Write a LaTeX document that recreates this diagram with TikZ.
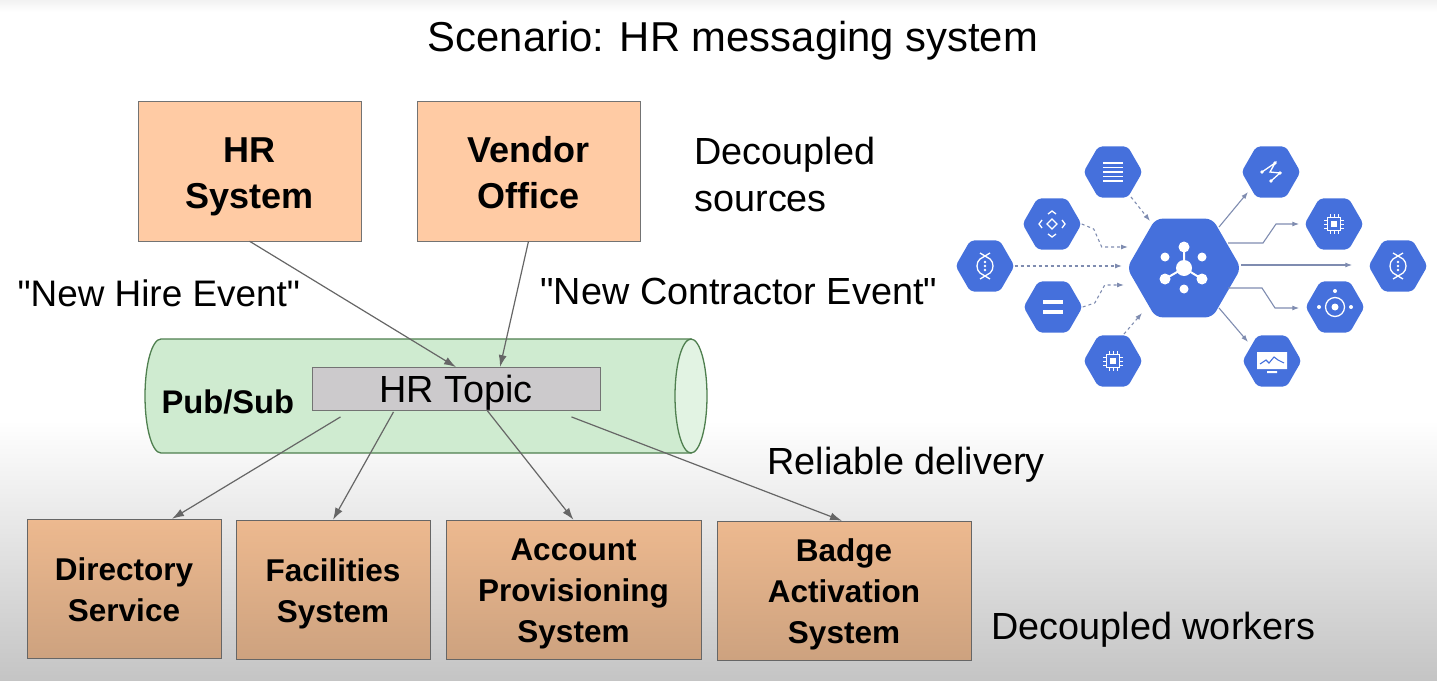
\documentclass[tikz,border=0pt]{standalone}
\usepackage{fontspec}
\setmainfont{Liberation Sans}[Ligatures=TeXOff]
\usetikzlibrary{positioning,calc,arrows.meta,shapes.geometric}
\definecolor{srcorange}{HTML}{FFCBA4}
\definecolor{wrktop}{HTML}{EDB98F}
\definecolor{wrkbot}{HTML}{CDA27F}
\definecolor{tubegreen}{HTML}{CFEBD0}
\definecolor{tubeedge}{HTML}{4F7F4F}
\definecolor{topicgray}{HTML}{CCCACC}
\definecolor{hexblue}{HTML}{4570DC}
\definecolor{flowblue}{HTML}{7F8CB0}
\newcommand{\srcpad}{\rule{0pt}{36pt}}
\newcommand{\wrkpad}{\rule{0pt}{32pt}}
\newcommand{\lastpad}{\rule[-8pt]{0pt}{1pt}}
\tikzset{
    every node/.style={font=\fontsize{37.8}{44}\selectfont},
    srcbox/.style={draw=black!55, fill=srcorange, minimum width=223pt, minimum height=140pt, align=center, font=\fontsize{36}{46}\selectfont\bfseries},
    wrkbox/.style={draw=black!60, top color=wrktop, bottom color=wrkbot, minimum height=139pt, align=center, font=\fontsize{31.5}{41}\selectfont\bfseries},
    hexsmall/.style={regular polygon, regular polygon sides=6, fill=hexblue, minimum size=59pt, inner sep=0pt, rounded corners=4pt},
    hexhub/.style={hexsmall, minimum size=114pt, rounded corners=7pt},
    arrow/.style={-{Latex[length=12pt,width=8pt]}, draw=black!60, line width=1.2pt},
    flowout/.style={-{Latex[length=7pt,width=5pt]}, draw=flowblue, line width=1.1pt},
    flowin/.style={flowout, dashed},
    icon/.style={draw=white, line width=1.3pt},
    pics/chipicon/.style={code={
      \draw[icon] (-6.5,-6.5) rectangle (6.5,6.5);
      \fill[white] (-3,-3) rectangle (3,3);
      \foreach \k in {-4,0,4}{
        \draw[icon,line width=1pt] (\k,-10) -- (\k,-7) (\k,7) -- (\k,10) (-10,\k) -- (-7,\k) (7,\k) -- (10,\k);
      }
    }},
    pics/dnaicon/.style={code={
      \draw[icon] (-5,-13) -- (5,-7) .. controls (9,-4) and (9,4) .. (5,7) -- (-5,13);
      \draw[icon] (5,-13) -- (-5,-7) .. controls (-9,-4) and (-9,4) .. (-5,7) -- (5,13);
      \foreach \k in {-4,0,4}{\fill[white] (0,\k) circle (1.4);}
    }},
}
\begin{document}
\begin{tikzpicture}[x=1pt,y=-1pt]
\useasboundingbox (0,0) rectangle (1437,680);
% page background
\shade[top color=black!5, bottom color=white] (0,0) rectangle (1437,12);
\shade[top color=white, bottom color=black!23] (0,420) rectangle (1437,680);

\node[font=\fontsize{41.8}{48}\selectfont] (title) at (733,41) {Scenario: HR messaging system};

\node[srcbox] (hrsys) at (249.5,171) {\srcpad HR\\System\lastpad};
\node[srcbox] (vendor) at (528.5,171) {\srcpad Vendor\\Office\lastpad};
\node[align=left, anchor=west, font=\fontsize{37.8}{47}\selectfont] (srclabel) at (691,174) {Decoupled\\sources};
\node[anchor=west, font=\fontsize{36.9}{44}\selectfont] (hireevent) at (14,293) {"New Hire Event"};
\node[anchor=west] (contrevent) at (537,291) {"New Contractor Event"};

% tube body and its open end
\draw[draw=tubeedge, fill=tubegreen, line width=1.3pt] (161,339) -- (691,339) -- (691,453) -- (161,453)
  .. controls (152,453) and (145,427.5) .. (145,396) .. controls (145,364.5) and (152,339) .. (161,339) -- cycle;
\node[ellipse, draw=tubeedge, line width=1.3pt, fill=tubegreen!60!white, minimum width=32pt, minimum height=114pt, inner sep=0pt] (tubeend) at (691,396) {};
\node[anchor=west, font=\fontsize{32.7}{38}\selectfont\bfseries] (pubsublabel) at (158,402) {Pub/Sub};
\node[draw=black!55, line width=1pt, fill=topicgray, minimum width=288pt, minimum height=42pt, inner sep=0pt,
  execute at begin node={\rule{0pt}{35pt}}, execute at end node={\rule[-6pt]{0pt}{1pt}}] (topic) at (456,389) {HR Topic};
\node[anchor=west] (reliable) at (764,465) {Reliable delivery};

\node[wrkbox, minimum width=194pt] (directory) at (124,588.5) {\wrkpad Directory\\Service\lastpad};
\node[wrkbox, minimum width=194pt] (facilities) at (333,589.5) {\wrkpad Facilities\\System\lastpad};
\node[wrkbox, minimum width=255pt] (account) at (573.5,589.5) {\wrkpad Account\\Provisioning\\System\lastpad};
\node[wrkbox, minimum width=254pt] (badge) at (844,590.5) {\wrkpad Badge\\Activation\\System\lastpad};
\node[anchor=west] (wrklabel) at (988,630) {Decoupled workers};

\draw[arrow] (hrsys.south) -- (topic.north);
\draw[arrow] (vendor.south) -- ($(topic.north)+(44,0)$);
\draw[arrow] ($(topic.south west)+(29,6)$) -- ($(directory.north)+(48,0)$);
\draw[arrow] ($(topic.south west)+(82,1)$) -- (facilities.north);
\draw[arrow] ($(topic.south west)+(176,0)$) -- (account.north);
\draw[arrow] ($(topic.south west)+(260,6)$) -- ($(badge.north)+(-2,0)$);

% blue hexagons
\node[hexhub] (hub) at (1184,268) {};
\foreach \name/\pos in {lines/{1113,172}, move/{1052,224}, dnain/{985,266}, storage/{1053,307}, chipin/{1113,361},
    net/{1271,172}, chipout/{1334,224}, dnaout/{1398,266}, target/{1335,307}, monitor/{1272,361}}{
  \node[hexsmall] (\name) at (\pos) {};
}

% incoming flows
\draw[flowin] (lines) ++(18,25) -- ($(hub)+(-34,-47)$);
\draw[flowin] (move.east) -- ++(12,5) -- ++(8,18) -- ($(hub)+(-56,-21)$);
\draw[flowin] (dnain.east) -- ($(hub)+(-62,-2)$);
\draw[flowin] (storage.east) -- ++(12,-4) -- ++(10,-18) -- ($(hub)+(-60,17)$);
\draw[flowin] (chipin) ++(11,-27) -- ($(hub)+(-42,45)$);
% outgoing flows
\draw[flowout] ($(hub)+(35,-41)$) -- ($(net)+(-23,20)$);
\draw[flowout] ($(hub)+(44,-25)$) -- ++(35,0) -- ++(13,-19) -- ($(chipout.west)+(-5,0)$);
\draw[flowout] ($(hub.east)+(0,-3)$) -- ($(dnaout.west)+(-16,-1)$);
\draw[flowout] ($(hub)+(44,20)$) -- ++(34,0) -- ++(13,20) -- ($(target.west)+(-6,1)$);
\draw[flowout] ($(hub)+(35,40)$) -- ($(monitor)+(-24,-19)$);

% hub glyph
\begin{scope}[shift={(hub)}]
  \draw[white, line width=2pt] (0,-21) -- (0,0) (-19,11) -- (0,0) -- (18,11);
  \fill[white] (0,0) circle (8) (0,-21) circle (5.5) (-19,-11) circle (4.5) (18,-11) circle (4.5)
    (-19,11) circle (5.5) (18,11) circle (5.5) (0,21) circle (4.5);
\end{scope}
% small glyphs
\foreach \k in {-9,-4.5,0,4.5,9}{
  \draw[icon] ($(lines)+(-10,\k)$) -- ++(20,0);
}
\begin{scope}[shift={(move)}]
  \draw[icon] (-5,0) -- (0,-5) -- (5,0) -- (0,5) -- cycle;
  \draw[icon] (-4,-10) -- (0,-13) -- (4,-10) (-4,10) -- (0,13) -- (4,10) (-10,-4) -- (-13,0) -- (-10,4) (10,-4) -- (13,0) -- (10,4);
\end{scope}
\pic at (dnain) {dnaicon};
\pic at (dnaout) {dnaicon};
\begin{scope}[shift={(storage)}]
  \draw[white, line width=4.5pt] (-10,-5) -- (10,-5) (-10,5) -- (10,5);
\end{scope}
\pic at (chipin) {chipicon};
\pic at (chipout) {chipicon};
\begin{scope}[shift={(net)}]
  \draw[icon] (-9,0) -- (4,-9) -- (-1,0) -- (9,1) -- (0,9);
  \fill[white] (-9,0) circle (1.8) (4,-9) circle (1.8) (9,1) circle (1.8) (0,9) circle (1.8);
\end{scope}
\begin{scope}[shift={(target)}]
  \draw[icon] (0,0) circle (9.5);
  \fill[white] (0,0) circle (3.5) (0,-16) circle (2) (-16,0) circle (2) (16,0) circle (2);
\end{scope}
\begin{scope}[shift={(monitor)}]
  \fill[white] (-15,-9) rectangle (15,8) (-5,10) rectangle (5,12);
  \draw[hexblue, line width=1.1pt] (-12,3) -- (-6,-1) -- (-3,2) -- (2,-4) -- (6,-1) -- (12,2);
\end{scope}
\end{tikzpicture}
\end{document}
